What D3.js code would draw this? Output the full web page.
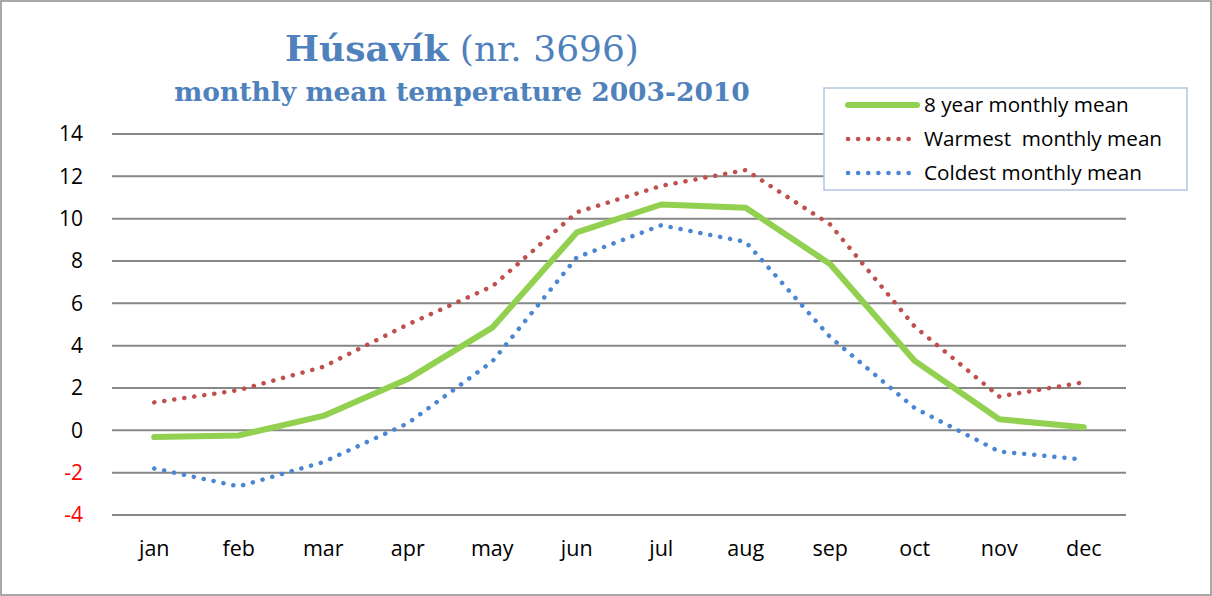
<!DOCTYPE html>
<html>
<head>
<meta charset="utf-8">
<script src="https://cdn.jsdelivr.net/npm/d3@7"></script>
<style>
  body { margin: 0; background: #fff; }
  #chart { width: 1212px; height: 596px; }
</style>
</head>
<body>
<div id="chart"></div>
<script>
const months = ['jan', 'feb', 'mar', 'apr', 'may', 'jun', 'jul', 'aug', 'sep', 'oct', 'nov', 'dec'];
const meanTemp = [-0.32, -0.24, 0.68, 2.42, 4.85, 9.35, 10.67, 10.52, 7.85, 3.28, 0.52, 0.15];
const warmestTemp = [1.32, 1.9, 3.0, 5.0, 6.8, 10.3, 11.55, 12.3, 9.72, 4.9, 1.6, 2.27];
const coldestTemp = [-1.8, -2.65, -1.5, 0.33, 3.25, 8.17, 9.69, 8.9, 4.4, 1.05, -1.0, -1.38];
const yTicks = [-4, -2, 0, 2, 4, 6, 8, 10, 12, 14];

const width = 1212, height = 596;
const svg = d3.select('#chart').append('svg')
    .attr('width', width)
    .attr('height', height);

// outer frame
svg.append('rect')
    .attr('x', 1).attr('y', 1)
    .attr('width', width - 2).attr('height', height - 2)
    .attr('fill', '#fff')
    .attr('stroke', '#8c8c8c')
    .attr('stroke-width', 1.5);

const plotLeft = 112, plotRight = 1126;

const x = d3.scaleBand()
    .domain(months)
    .range([plotLeft, plotRight]);

const y = d3.scaleLinear()
    .domain([-4, 14])
    .range([515, 134]);

// gridlines
svg.append('g')
    .selectAll('line')
    .data(yTicks)
    .enter()
    .append('line')
    .attr('x1', plotLeft)
    .attr('x2', plotRight)
    .attr('y1', d => y(d))
    .attr('y2', d => y(d))
    .attr('stroke', '#878787')
    .attr('stroke-width', 2);

// y labels (plain hyphen for negatives, like the original)
const yAxis = svg.append('g')
    .attr('transform', 'translate(83,0)')
    .call(d3.axisLeft(y).tickValues(yTicks).tickSize(0).tickPadding(0)
        .tickFormat(d => String(d)));
yAxis.select('.domain').remove();
yAxis.selectAll('text')
    .attr('font-family', 'Open Sans, sans-serif')
    .attr('font-size', 21)
    .attr('fill', d => d < 0 ? '#ff0000' : '#000');

// x labels
const xAxis = svg.append('g')
    .attr('transform', 'translate(0,541)')
    .call(d3.axisBottom(x).tickSize(0).tickPadding(0));
xAxis.select('.domain').remove();
xAxis.selectAll('text')
    .attr('font-family', 'Open Sans, sans-serif')
    .attr('font-size', 21.5)
    .attr('fill', '#000');

const line = d3.line()
    .x((d, i) => x(months[i]) + x.bandwidth() / 2)
    .y(d => y(d));

const series = [
    { name: 'Warmest  monthly mean', values: warmestTemp, color: '#c0504d', dotted: true },
    { name: 'Coldest monthly mean', values: coldestTemp, color: '#4a86d4', dotted: true },
    { name: '8 year monthly mean', values: meanTemp, color: '#92d050', dotted: false }
];

series.forEach(s => {
    svg.append('path')
        .datum(s.values)
        .attr('d', line)
        .attr('fill', 'none')
        .attr('stroke', s.color)
        .attr('stroke-width', s.dotted ? 4.5 : 6)
        .attr('stroke-linecap', 'round')
        .attr('stroke-linejoin', 'round')
        .attr('stroke-dasharray', s.dotted ? '0.1 10' : null);
});

// title
const title = svg.append('text')
    .attr('x', 462)
    .attr('y', 61)
    .attr('text-anchor', 'middle')
    .attr('font-family', 'DejaVu Serif, serif')
    .attr('fill', '#4f81bd');
title.append('tspan')
    .attr('font-size', 36)
    .attr('font-weight', 'bold')
    .text('Húsavík');
title.append('tspan')
    .attr('font-size', 36)
    .text(' (nr. 3696)');

svg.append('text')
    .attr('x', 462)
    .attr('y', 101)
    .attr('text-anchor', 'middle')
    .attr('font-family', 'DejaVu Serif, serif')
    .attr('font-size', 26.5)
    .attr('font-weight', 'bold')
    .attr('fill', '#4f81bd')
    .text('monthly mean temperature 2003-2010');

// legend
const legend = svg.append('g');
legend.append('rect')
    .attr('x', 824).attr('y', 88)
    .attr('width', 363).attr('height', 102)
    .attr('fill', '#fff')
    .attr('stroke', '#b4c6e0')
    .attr('stroke-width', 1.5);

const legendOrder = [series[2], series[0], series[1]];
legendOrder.forEach((s, i) => {
    const ly = 105 + i * 34;
    legend.append('line')
        .attr('x1', 848).attr('x2', 917)
        .attr('y1', ly).attr('y2', ly)
        .attr('stroke', s.color)
        .attr('stroke-width', s.dotted ? 4.5 : 6)
        .attr('stroke-linecap', 'round')
        .attr('stroke-dasharray', s.dotted ? '0.1 10' : null);
    legend.append('text')
        .attr('x', 924)
        .attr('y', ly + 7)
        .attr('font-family', 'Open Sans, sans-serif')
        .attr('font-size', 20.7)
        .attr('fill', '#000')
        .style('white-space', 'pre')
        .text(s.name);
});
</script>
</body>
</html>
